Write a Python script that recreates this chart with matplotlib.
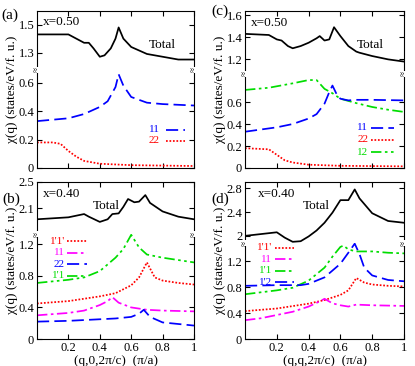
import matplotlib
matplotlib.use("Agg")
import matplotlib.pyplot as plt
from matplotlib.ticker import FuncFormatter

plt.rcParams['font.family'] = ['Liberation Serif', 'DejaVu Serif']
plt.rcParams['font.size'] = 9

# ---- panel (a): (q,0,2pi/c), x=0.50 ----
qa_tot = [0, 0.2, 0.25, 0.3, 0.33, 0.36, 0.4, 0.43, 0.47, 0.5, 0.52, 0.55, 0.6, 0.7, 0.8, 0.9, 1.0]
a_tot = [1.43, 1.43, 1.40, 1.37, 1.37, 1.33, 1.27, 1.28, 1.33, 1.40, 1.48, 1.40, 1.34, 1.29, 1.27, 1.25, 1.25]
qa_11 = [0, 0.2, 0.3, 0.4, 0.45, 0.5, 0.52, 0.55, 0.6, 0.7, 0.8, 1.0]
a_11 = [0.33, 0.35, 0.38, 0.43, 0.47, 0.57, 0.66, 0.58, 0.50, 0.46, 0.45, 0.44]
qa_22 = [0, 0.1, 0.15, 0.2, 0.25, 0.3, 0.4, 0.6, 1.0]
a_22 = [0.18, 0.18, 0.17, 0.12, 0.08, 0.05, 0.03, 0.02, 0.014]

# ---- panel (c): (q,q,2pi/c), x=0.50 ----
qc_tot = [0, 0.15, 0.2, 0.23, 0.27, 0.3, 0.35, 0.4, 0.45, 0.47, 0.5, 0.53, 0.56, 0.6, 0.65, 0.7, 0.72, 0.8, 0.9, 1.0]
c_tot = [1.43, 1.42, 1.38, 1.37, 1.32, 1.30, 1.32, 1.35, 1.39, 1.41, 1.37, 1.38, 1.49, 1.41, 1.32, 1.27, 1.26, 1.23, 1.20, 1.18]
qc_11 = [0, 0.2, 0.3, 0.4, 0.45, 0.5, 0.53, 0.55, 0.58, 0.6, 0.65, 0.7, 0.8, 1.0]
c_11 = [0.33, 0.37, 0.40, 0.45, 0.49, 0.585, 0.69, 0.75, 0.66, 0.63, 0.615, 0.62, 0.62, 0.615]
qc_22 = [0, 0.15, 0.2, 0.25, 0.3, 0.4, 0.6, 1.0]
c_22 = [0.18, 0.17, 0.12, 0.07, 0.05, 0.03, 0.02, 0.015]
qc_12 = [0, 0.15, 0.3, 0.4, 0.45, 0.5, 0.55, 0.6, 0.7, 0.8, 0.9, 1.0]
c_12 = [0.71, 0.73, 0.77, 0.80, 0.80, 0.72, 0.68, 0.63, 0.59, 0.555, 0.53, 0.51]

# ---- panel (b): (q,0,2pi/c), x=0.40 ----
qb_tot = [0, 0.2, 0.3, 0.33, 0.4, 0.45, 0.48, 0.52, 0.55, 0.58, 0.62, 0.65, 0.69, 0.72, 0.8, 0.9, 1.0]
b_tot = [1.93, 1.96, 2.01, 1.97, 1.89, 1.93, 2.01, 2.02, 2.12, 2.24, 2.19, 2.20, 2.30, 2.18, 2.05, 1.97, 1.93]
qb_p1p1 = [0, 0.2, 0.4, 0.5, 0.6, 0.65, 0.7, 0.75, 0.8, 0.9, 1.0]
b_p1p1 = [0.45, 0.48, 0.54, 0.58, 0.68, 0.78, 0.97, 0.78, 0.74, 0.71, 0.69]
qb_11 = [0, 0.2, 0.3, 0.4, 0.45, 0.48, 0.52, 0.6, 0.7, 0.8, 1.0]
b_11 = [0.30, 0.33, 0.36, 0.43, 0.48, 0.53, 0.46, 0.40, 0.37, 0.36, 0.35]
qb_22 = [0, 0.2, 0.4, 0.5, 0.6, 0.65, 0.68, 0.72, 0.8, 0.9, 1.0]
b_22 = [0.22, 0.23, 0.25, 0.26, 0.28, 0.32, 0.37, 0.28, 0.21, 0.19, 0.17]
qb_p11 = [0, 0.2, 0.3, 0.4, 0.5, 0.55, 0.6, 0.65, 0.7, 0.8, 0.9, 1.0]
b_p11 = [0.71, 0.75, 0.78, 0.86, 1.03, 1.14, 1.32, 1.16, 1.07, 1.03, 1.00, 0.97]

# ---- panel (d): (q,q,2pi/c), x=0.40 ----
qd_tot = [0, 0.1, 0.2, 0.25, 0.3, 0.35, 0.4, 0.45, 0.5, 0.55, 0.6, 0.65, 0.69, 0.72, 0.8, 0.9, 1.0]
d_tot = [2.00, 2.03, 2.06, 1.97, 1.90, 1.91, 1.99, 2.09, 2.22, 2.39, 2.60, 2.60, 2.78, 2.63, 2.38, 2.25, 2.22]
qd_p1p1 = [0, 0.2, 0.4, 0.5, 0.6, 0.65, 0.7, 0.75, 0.8, 0.9, 1.0]
d_p1p1 = [0.43, 0.47, 0.545, 0.60, 0.68, 0.75, 0.94, 0.87, 0.84, 0.82, 0.81]
qd_11 = [0, 0.1, 0.2, 0.3, 0.4, 0.47, 0.5, 0.55, 0.6, 0.65, 0.7, 0.8, 1.0]
d_11 = [0.29, 0.32, 0.37, 0.42, 0.50, 0.58, 0.62, 0.55, 0.52, 0.50, 0.53, 0.52, 0.51]
qd_p11 = [0, 0.2, 0.3, 0.4, 0.5, 0.55, 0.6, 0.62, 0.65, 0.7, 0.8, 0.9, 1.0]
d_p11 = [0.69, 0.75, 0.79, 0.90, 1.10, 1.27, 1.42, 1.44, 1.38, 1.35, 1.35, 1.33, 1.32]
qd_p12 = [0, 0.2, 0.35, 0.4, 0.5, 0.6, 0.65, 0.69, 0.72, 0.75, 0.8, 0.9, 1.0]
d_p12 = [0.82, 0.83, 0.83, 0.85, 0.95, 1.16, 1.33, 1.47, 1.31, 1.10, 0.98, 0.91, 0.89]

# line styles
BLACK = dict(color='black', lw=1.25, ls='-')
BLUE = dict(color='#0000ff', lw=1.25, ls=(0, (7, 3)))
RED = dict(color='#ff0000', lw=1.25, ls=(0, (1, 1)))
MAG = dict(color='#ff00ff', lw=1.25, ls=(0, (6, 2, 1.5, 2)))
GREEN = dict(color='#00dd00', lw=1.25, ls=(0, (6, 2, 1.5, 2, 1.5, 2)))

W, H = 415, 366
fig = plt.figure(figsize=(W / 100, H / 100), dpi=100)


def box(l, r, t, b):
    # pixel box -> figure fraction rect
    return [l / W, (H - b) / H, (r - l) / W, (b - t) / H]


fmt = FuncFormatter(lambda v, p: '%g' % round(v, 3))


def make_pair(l, r, t, brk, b, ylim_up, ylim_lo, yt_up, yt_lo, xlabels):
    au = fig.add_axes(box(l, r, t, brk))
    al = fig.add_axes(box(l, r, brk, b))
    for ax in (au, al):
        ax.set_xlim(0, 1)
        ax.set_xticks([0.2, 0.4, 0.6, 0.8, 1.0])
        ax.tick_params(direction='in', top=True, right=True, length=3.5, width=0.8, pad=2)
        ax.yaxis.set_major_formatter(fmt)
        ax.xaxis.set_major_formatter(fmt)
        for s in ax.spines.values():
            s.set_linewidth(0.8)
    au.spines['bottom'].set_visible(False)
    al.spines['top'].set_visible(False)
    au.tick_params(bottom=False, labelbottom=False)
    al.tick_params(top=False, labelbottom=xlabels)
    au.set_ylim(*ylim_up)
    al.set_ylim(*ylim_lo)
    au.set_yticks(yt_up)
    al.set_yticks(yt_lo)
    # break marks
    for x in (0, 1):
        al.text(x, 1.0, '\u2248', transform=al.transAxes, ha='center', va='center',
                fontsize=6.5, rotation=90, clip_on=False, zorder=10,
                bbox=dict(facecolor='white', edgecolor='none', pad=0.2))
    return au, al


def legend_item(ax, y, label, style, xt, x0, x1):
    ax.text(xt, y, label, transform=ax.transAxes, ha='right', va='center',
            color=style['color'], fontsize=8)
    ax.plot([x0, x1], [y, y], transform=ax.transAxes, **style)


# (a)
au, al = make_pair(37, 194, 10.7, 70, 168, (1.175, 1.6), (0, 0.69),
                   [1.3, 1.5], [0, 0.2, 0.4, 0.6], False)
au.plot(qa_tot, a_tot, **BLACK)
al.plot(qa_11, a_11, **BLUE)
al.plot(qa_22, a_22, **RED)
au.text(0.04, 0.81, 'x=0.50', transform=au.transAxes, va='center', fontsize=9.5)
au.text(0.80, 0.42, 'Total', transform=au.transAxes, ha='center', va='center', fontsize=9.5)
legend_item(al, 0.39, '11', BLUE, 0.78, 0.82, 0.94)
legend_item(al, 0.28, '22', RED, 0.78, 0.82, 0.94)

# (c)
au, al = make_pair(245, 404, 10.7, 74, 168, (1.068, 1.639), (0, 0.855),
                   [1.2, 1.4, 1.6], [0, 0.2, 0.4, 0.6], False)
au.plot(qc_tot, c_tot, **BLACK)
al.plot(qc_12, c_12, **GREEN)
al.plot(qc_11, c_11, **BLUE)
al.plot(qc_22, c_22, **RED)
au.text(0.04, 0.81, 'x=0.50', transform=au.transAxes, va='center', fontsize=9.5)
au.text(0.79, 0.46, 'Total', transform=au.transAxes, ha='center', va='center', fontsize=9.5)
legend_item(al, 0.43, '11', BLUE, 0.775, 0.79, 0.94)
legend_item(al, 0.30, '22', RED, 0.775, 0.79, 0.94)
legend_item(al, 0.17, '12', GREEN, 0.775, 0.79, 0.94)

# (b)
au, al = make_pair(37, 194, 182, 234, 339, (1.705, 2.5), (0, 1.33),
                   [2.1, 2.5], [0, 0.4, 0.8, 1.2], True)
au.plot(qb_tot, b_tot, **BLACK)
al.plot(qb_p11, b_p11, **GREEN)
al.plot(qb_p1p1, b_p1p1, **RED)
al.plot(qb_11, b_11, **MAG)
al.plot(qb_22, b_22, **BLUE)
au.text(0.04, 0.77, 'x=0.40', transform=au.transAxes, va='center', fontsize=9.5)
au.text(0.44, 0.54, 'Total', transform=au.transAxes, ha='center', va='center', fontsize=9.5)
legend_item(al, 0.93, "1'1'", RED, 0.178, 0.19, 0.32)
legend_item(al, 0.82, '11', MAG, 0.178, 0.19, 0.32)
legend_item(al, 0.71, '22', BLUE, 0.178, 0.19, 0.32)
legend_item(al, 0.60, "1'1", GREEN, 0.178, 0.19, 0.32)
al.set_xlabel('(q,0,2\u03c0/c)  (\u03c0/a)', fontsize=9.5, labelpad=1)

# (d)
au, al = make_pair(245, 404, 182, 243, 339, (1.88, 2.905), (0, 1.48),
                   [2, 2.4, 2.8], [0, 0.4, 0.8, 1.2], True)
au.plot(qd_tot, d_tot, **BLACK)
al.plot(qd_p11, d_p11, **GREEN)
al.plot(qd_p12, d_p12, **BLUE)
al.plot(qd_p1p1, d_p1p1, **RED)
al.plot(qd_11, d_11, **MAG)
au.text(0.08, 0.80, 'x=0.40', transform=au.transAxes, va='center', fontsize=9.5)
au.text(0.45, 0.61, 'Total', transform=au.transAxes, ha='center', va='center', fontsize=9.5)
legend_item(al, 0.95, "1'1'", RED, 0.17, 0.19, 0.31)
legend_item(al, 0.83, '11', MAG, 0.17, 0.19, 0.31)
legend_item(al, 0.71, "1'1", GREEN, 0.17, 0.19, 0.31)
legend_item(al, 0.59, "1'2", BLUE, 0.17, 0.19, 0.31)
al.set_xlabel('(q,q,2\u03c0/c)  (\u03c0/a)', fontsize=9.5, labelpad=1)

# y labels and panel letters
ylab = '\u03c7(q) (states/eV/f. u.)'
for x, yc in ((12, 89), (220, 89), (12, 260), (220, 260)):
    fig.text(x / W, 1 - yc / H, ylab, rotation=90, ha='center', va='center', fontsize=9.5)
for x, y, s in ((1, 15, '(a)'), (211, 11, '(c)'), (2, 199, '(b)'), (211, 199, '(d)')):
    fig.text(x / W, 1 - y / H, s, ha='left', va='center', fontsize=11)

fig.savefig('out.png', dpi=100)
